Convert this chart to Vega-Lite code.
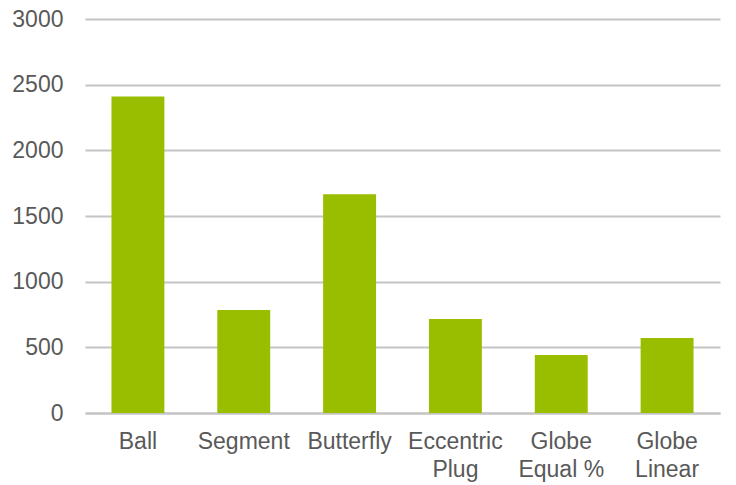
{
  "$schema": "https://vega.github.io/schema/vega-lite/v6.json",
  "width": 635,
  "height": 394,
  "autosize": {"type": "none"},
  "padding": {"left": 85, "top": 19, "right": 16, "bottom": 72},
  "background": "white",
  "config": {
    "view": {"stroke": null},
    "font": "Liberation Sans",
    "axis": {
      "labelFont": "Liberation Sans",
      "labelFontSize": 23,
      "labelColor": "#595959",
      "ticks": false,
      "tickSize": 0,
      "domain": false,
      "title": null
    }
  },
  "data": {
    "values": [
      {"valve": "Ball", "value": 2410},
      {"valve": "Segment", "value": 784},
      {"valve": "Butterfly", "value": 1665},
      {"valve": "Eccentric Plug", "value": 716},
      {"valve": "Globe Equal %", "value": 442},
      {"valve": "Globe Linear", "value": 571}
    ]
  },
  "mark": {"type": "bar", "color": "#99BE00"},
  "encoding": {
    "x": {
      "field": "valve",
      "type": "nominal",
      "sort": null,
      "scale": {"paddingInner": 0.5, "paddingOuter": 0.25},
      "axis": {
        "labelAngle": 0,
        "labelPadding": 17,
        "labelLineHeight": 28,
        "labelBaseline": "top",
        "grid": false,
        "domain": true,
        "domainColor": "#c4c4c4",
        "domainWidth": 2,
        "labelExpr": "indexof(datum.label, ' ') > 0 ? [substring(datum.label, 0, indexof(datum.label, ' ')), substring(datum.label, indexof(datum.label, ' ') + 1)] : datum.label"
      }
    },
    "y": {
      "field": "value",
      "type": "quantitative",
      "scale": {"domain": [0, 3000]},
      "axis": {
        "values": [0, 500, 1000, 1500, 2000, 2500, 3000],
        "format": "d",
        "labelPadding": 22,
        "grid": true,
        "gridColor": "#c4c4c4",
        "gridWidth": 2
      }
    }
  }
}
